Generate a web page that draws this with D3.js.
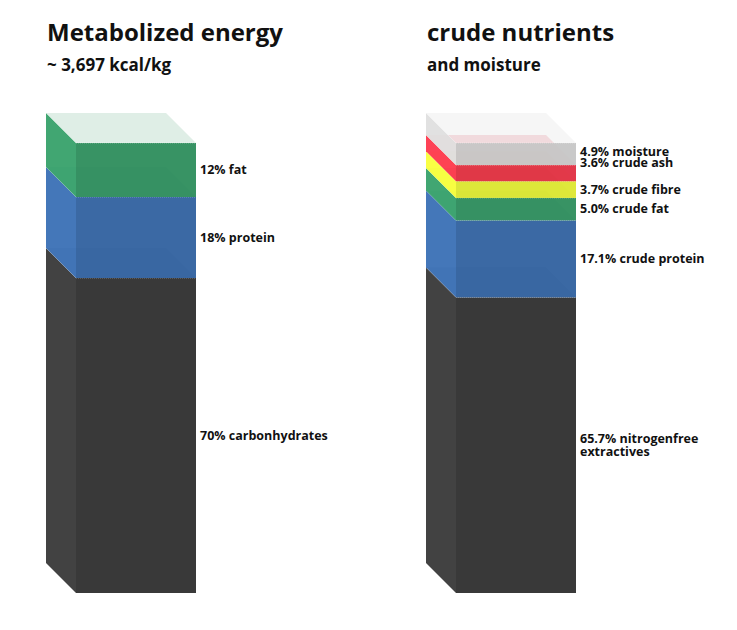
<!DOCTYPE html>
<html>
<head>
<meta charset="utf-8">
<script src="https://cdn.jsdelivr.net/npm/d3@7"></script>
<style>
  body { margin: 0; background: #fff; }
  text { font-family: "Open Sans", sans-serif; fill: #111; }
</style>
</head>
<body>
<div id="chart"></div>
<script>
// Left stack: metabolized energy (bottom to top)
const energyNames = ["carbonhydrates", "protein", "fat"];
const energyValues = [70, 18, 12];
const energyColors = ["#282828", "#2a5c9c", "#278a57"];

// Right stack: crude nutrients and moisture (bottom to top)
const nutrientNames = ["nitrogenfree extractives", "crude protein", "crude fat", "crude fibre", "crude ash", "moisture"];
const nutrientValues = [65.7, 17.1, 5.0, 3.7, 3.6, 4.9];
const nutrientColors = ["#282828", "#2a5c9c", "#278a57", "#dce62a", "#e0283c", "#c4c4c4"];

const W = 737, H = 630;
const depth = 30, barW = 120;
const stackTop = 143, stackBottom = 593;

const svg = d3.select("#chart").append("svg")
    .attr("width", W).attr("height", H);

const y = d3.scaleLinear().domain([0, 100]).range([stackBottom, stackTop]);

function drawStack(x0, names, values, colors, fmt, title, subtitle) {
    svg.append("text").attr("x", x0 - 29).attr("y", 41)
        .style("font-size", "24px").style("font-weight", 700).text(title);
    svg.append("text").attr("x", x0 - 29).attr("y", 71)
        .style("font-size", "17px").style("font-weight", 700).text(subtitle);

    let cum = 0;
    const segs = values.map((v, i) => {
        const s = { name: names[i], v, color: colors[i], y0: y(cum), y1: y(cum + v) };
        cum += v;
        return s;
    });

    const g = svg.append("g");
    segs.forEach(s => {
        const c = d3.color(s.color);
        // left side face
        g.append("path")
            .attr("d", `M${x0},${s.y1}L${x0 - depth},${s.y1 - depth}L${x0 - depth},${s.y0 - depth}L${x0},${s.y0}Z`)
            .attr("fill", c.brighter(0.35)).attr("opacity", 0.9);
        // top face (seen through)
        g.append("path")
            .attr("d", `M${x0},${s.y1}L${x0 - depth},${s.y1 - depth}L${x0 + barW - depth},${s.y1 - depth}L${x0 + barW},${s.y1}Z`)
            .attr("fill", s.color).attr("opacity", 0.15);
        // front face
        g.append("rect")
            .attr("x", x0).attr("y", s.y1)
            .attr("width", barW).attr("height", s.y0 - s.y1)
            .attr("fill", s.color).attr("opacity", 0.92);
        // light edge lines
        g.append("line")
            .attr("x1", x0 - depth).attr("y1", s.y1 - depth)
            .attr("x2", x0).attr("y2", s.y1)
            .attr("stroke", "#fff").attr("stroke-opacity", 0.5).attr("stroke-width", 0.7);
        g.append("line")
            .attr("x1", x0).attr("y1", s.y1).attr("x2", x0 + barW).attr("y2", s.y1)
            .attr("stroke", "#fff").attr("stroke-opacity", 0.5).attr("stroke-width", 0.7)
            .attr("stroke-dasharray", "1,1");
    });

    // labels, nudged so thin top segments don't overlap
    const labels = segs.map(s => ({ s, ly: (s.y0 + s.y1) / 2 }));
    for (let i = labels.length - 2; i >= 0; i--) {
        const above = labels[i + 1];
        if (labels[i].ly - above.ly < 11) labels[i].ly = above.ly + 11;
    }
    if (labels.length > 5) { // moisture above ash: stack tightly
        const n = labels.length;
        labels[n - 1].ly -= 2;
        labels[n - 2].ly = labels[n - 1].ly + 11;
    }
    labels.forEach(l => {
        const t = svg.append("text")
            .style("font-size", "12.5px").style("font-weight", 700);
        const parts = fmt(l.s).split("\n");
        const start = l.ly + 4 - (parts.length - 1) * 6.5;
        parts.forEach((p, k) => t.append("tspan").attr("x", x0 + barW + 4).attr("y", start + k * 13).text(p));
    });
}

drawStack(76, energyNames, energyValues, energyColors,
    s => `${s.v}% ${s.name}`, "Metabolized energy", "~ 3,697 kcal/kg");
drawStack(456, nutrientNames, nutrientValues, nutrientColors,
    s => `${s.v.toFixed(1)}% ${s.name.replace("nitrogenfree ", "nitrogenfree\n")}`,
    "crude nutrients", "and moisture");
</script>
</body>
</html>
